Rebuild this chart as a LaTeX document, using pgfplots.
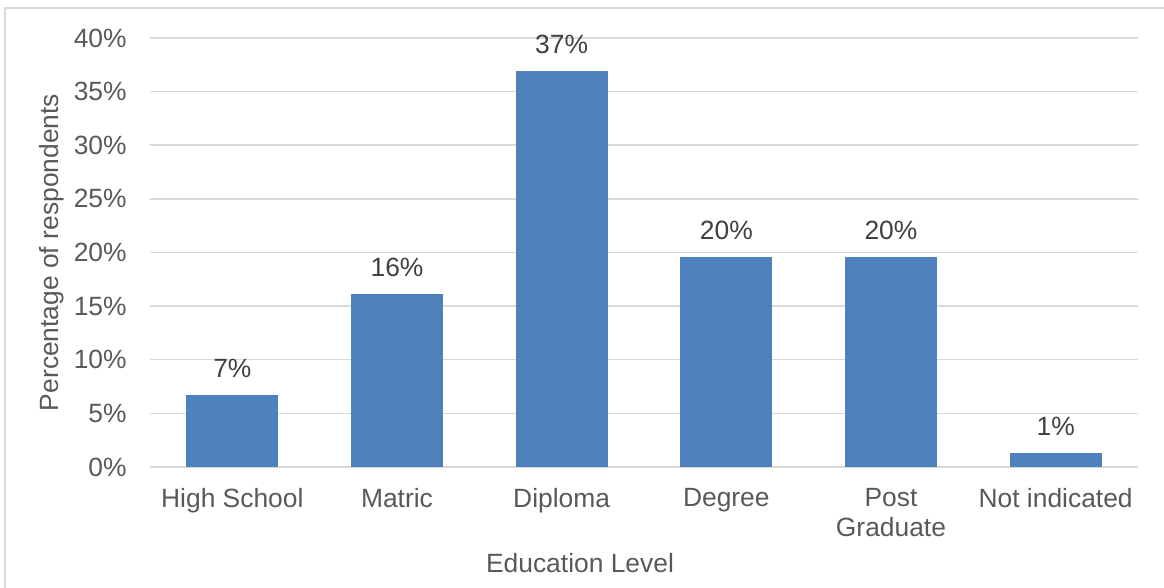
\documentclass[border=0pt]{standalone}
\usepackage{pgfplots}
\pgfplotsset{compat=1.18}
\usepackage{fontspec}
\setmainfont{Liberation Sans}
\definecolor{barblue}{HTML}{4F81BD}
\definecolor{gridgray}{HTML}{D9D9D9}
\definecolor{ticktext}{HTML}{595959}
\definecolor{labeltext}{HTML}{404040}
\newcommand{\cf}{\fontsize{13.2}{15}\selectfont}
\begin{document}
\begin{tikzpicture}
\useasboundingbox (0,0) rectangle (582pt,294pt);
\draw[gridgray, line width=0.9pt] (2.5pt,-2pt) -- (2.5pt,290pt) -- (584pt,290pt);
\begin{axis}[
  at={(75pt,60.5pt)}, anchor=south west,
  scale only axis, width=494pt, height=214.5pt,
  xmin=-0.5, xmax=5.5, ymin=0, ymax=40,
  ybar, bar width=45.5pt,
  axis line style={draw=none},
  major tick length=0pt,
  ymajorgrids, grid style={gridgray, line width=0.75pt},
  ytick={0,5,...,40},
  yticklabels={0\%,5\%,10\%,15\%,20\%,25\%,30\%,35\%,40\%},
  yticklabel style={anchor=east, inner sep=0pt, xshift=-11.5pt, font=\cf, text=ticktext},
  xtick={0,...,5},
  xticklabels={High School, Matric, Diploma, Degree, {Post\\Graduate}, Not indicated},
  xticklabel style={align=center, anchor=north, inner sep=0pt, yshift=-10.5pt, font=\cf, text=ticktext},
  point meta=explicit symbolic,
  nodes near coords,
  every node near coord/.append style={anchor=base, yshift=9pt, inner sep=0pt, font=\cf, text=labeltext},
]
\addplot[fill=barblue, draw=barblue] coordinates {
  (0,6.7) [7\%]
  (1,16.1) [16\%]
  (2,36.9) [37\%]
  (3,19.5) [20\%]
  (4,19.5) [20\%]
  (5,1.3) [1\%]
};
\end{axis}
\node[rotate=90, anchor=center, inner sep=0pt, font=\cf, text=ticktext] at (26pt,167.75pt) {Percentage of respondents};
\node[anchor=base, inner sep=0pt, font=\cf, text=ticktext] at (290pt,7.5pt) {Education Level};
\end{tikzpicture}
\end{document}
